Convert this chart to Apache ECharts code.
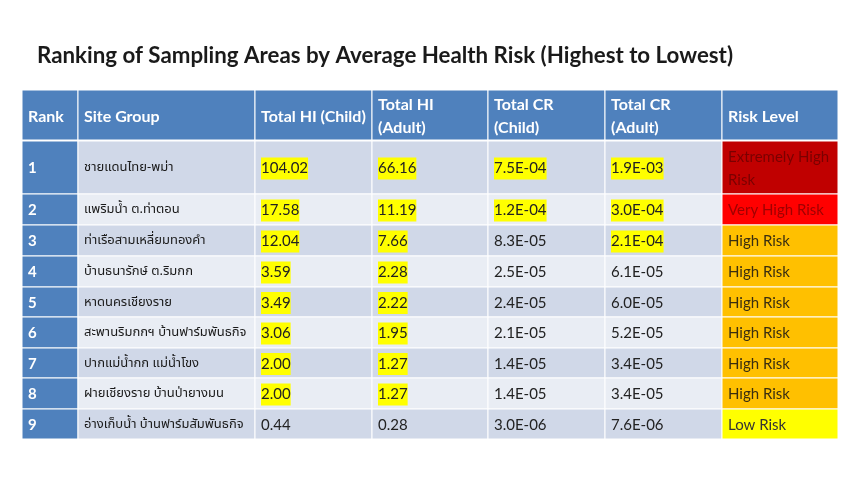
<!DOCTYPE html>
<html><head><meta charset="utf-8">
<script src="https://cdn.jsdelivr.net/npm/echarts@6/dist/echarts.min.js"></script>
<style>html,body{margin:0;padding:0;background:#fff}#c{width:860px;height:482px}</style>
</head><body><div id="c"></div><script>
// ---- data ----
const headers = ['Rank', 'Site Group', 'Total HI (Child)', 'Total HI\n(Adult)', 'Total CR\n(Child)', 'Total CR\n(Adult)', 'Risk Level'];
const ranks = [1, 2, 3, 4, 5, 6, 7, 8, 9];
const sites = ['ชายแดนไทย-พม่า', 'แพริมน้ำ ต.ท่าตอน', 'ท่าเรือสามเหลี่ยมทองคำ', 'บ้านธนารักษ์ ต.ริมกก', 'หาดนครเชียงราย', 'สะพานริมกกฯ บ้านฟาร์มพันธกิจ', 'ปากแม่น้ำกก แม่น้ำโขง', 'ฝายเชียงราย บ้านป่ายางมน', 'อ่างเก็บน้ำ บ้านฟาร์มสัมพันธกิจ'];
const hiChild = [104.02, 17.58, 12.04, 3.59, 3.49, 3.06, 2.00, 2.00, 0.44];
const hiAdult = [66.16, 11.19, 7.66, 2.28, 2.22, 1.95, 1.27, 1.27, 0.28];
const crChild = [7.5e-4, 1.2e-4, 8.3e-5, 2.5e-5, 2.4e-5, 2.1e-5, 1.4e-5, 1.4e-5, 3.0e-6];
const crAdult = [1.9e-3, 3.0e-4, 2.1e-4, 6.1e-5, 6.0e-5, 5.2e-5, 3.4e-5, 3.4e-5, 7.6e-6];
const riskLevels = ['Extremely High\nRisk', 'Very High Risk', 'High Risk', 'High Risk', 'High Risk', 'High Risk', 'High Risk', 'High Risk', 'Low Risk'];
const hiThreshold = 1;
const crThreshold = 1e-4;

// ---- layout / style ----
const colEdges = [0, 56, 233, 350, 466, 583, 700, 816];
const rowEdges = [0, 51, 104, 135, 166, 197, 227, 258, 288, 319, 349];
const LATIN = 'Lato, "Open Sans", "Liberation Sans", sans-serif';
const THAI = '"Noto Sans Thai", Tahoma, Loma, Garuda, "Noto Sans", sans-serif';
const riskStyle = {
  'Extremely High\nRisk': { bg: '#C00000', fg: '#7A0000' },
  'Very High Risk': { bg: '#FF0000', fg: '#A00000' },
  'High Risk': { bg: '#FFC000', fg: '#3A2E10' },
  'Low Risk': { bg: '#FFFF00', fg: '#333333' }
};

function fmtCR(v) {
  const [m, e] = v.toExponential(1).split('e');
  const n = parseInt(e, 10);
  const s = n < 0 ? '-' : '+';
  return m + 'E' + s + String(Math.abs(n)).padStart(2, '0');
}

function cellInfo(c, r) {
  if (r === 0) return { text: headers[c], bg: '#4F81BD', fg: '#FFFFFF', font: 'bold 16px ' + LATIN };
  const i = r - 1;
  const stripe = (i % 2 === 0) ? '#D0D8E8' : '#E9EDF4';
  const base = { bg: stripe, fg: '#222222', font: '15px ' + LATIN };
  switch (c) {
    case 0: return { text: String(ranks[i]), bg: '#4F81BD', fg: '#FFFFFF', font: 'bold 15px ' + LATIN };
    case 1: return Object.assign(base, { text: sites[i], font: '13px ' + THAI, fg: '#1A1A1A' });
    case 2: return Object.assign(base, { text: hiChild[i].toFixed(2), hl: hiChild[i] > hiThreshold });
    case 3: return Object.assign(base, { text: hiAdult[i].toFixed(2), hl: hiAdult[i] > hiThreshold });
    case 4: return Object.assign(base, { text: fmtCR(crChild[i]), hl: crChild[i] > crThreshold });
    case 5: return Object.assign(base, { text: fmtCR(crAdult[i]), hl: crAdult[i] > crThreshold });
    case 6: {
      const st = riskStyle[riskLevels[i]];
      return { text: riskLevels[i], bg: st.bg, fg: st.fg, font: '15px ' + LATIN };
    }
  }
}

const cells = [];
for (let r = 0; r <= ranks.length; r++) for (let c = 0; c < headers.length; c++) cells.push([c, r]);

const chart = echarts.init(document.getElementById('c'));
chart.setOption({
  animation: false,
  backgroundColor: '#FFFFFF',
  title: {
    text: 'Ranking of Sampling Areas by Average Health Risk (Highest to Lowest)',
    left: 37, top: 45, padding: 0,
    textStyle: { fontFamily: LATIN, fontWeight: 'bold', fontSize: 22.3, color: '#1A1A1A' }
  },
  grid: { left: 22, right: 22, top: 90, bottom: 43 },
  xAxis: { type: 'value', min: 0, max: 816, show: false },
  yAxis: { type: 'value', min: 0, max: 349, inverse: true, show: false },
  series: [{
    type: 'custom',
    data: cells,
    renderItem: function (params, api) {
      const c = api.value(0), r = api.value(1);
      const p0 = api.coord([colEdges[c], rowEdges[r]]);
      const p1 = api.coord([colEdges[c + 1], rowEdges[r + 1]]);
      const info = cellInfo(c, r);
      const children = [{
        type: 'rect',
        shape: { x: p0[0], y: p0[1], width: p1[0] - p0[0], height: p1[1] - p0[1] },
        style: { fill: info.bg, stroke: '#FFFFFF', lineWidth: 1 }
      }];
      if (r === 0) {
        children.push({ type: 'rect', shape: { x: p0[0], y: p1[1] - 1.5, width: p1[0] - p0[0], height: 3 }, style: { fill: '#FFFFFF' } });
      }
      const ts = {
        text: info.text, fill: info.fg, font: info.font,
        align: 'left', verticalAlign: 'middle', lineHeight: 23
      };
      if (info.hl) { ts.backgroundColor = '#FFFF00'; ts.padding = [1, 0, 0, 0]; ts.lineHeight = 21; }
      children.push({ type: 'text', x: p0[0] + 6, y: (p0[1] + p1[1]) / 2 + 1, style: ts });
      return { type: 'group', children: children };
    }
  }]
});
</script></body></html>
